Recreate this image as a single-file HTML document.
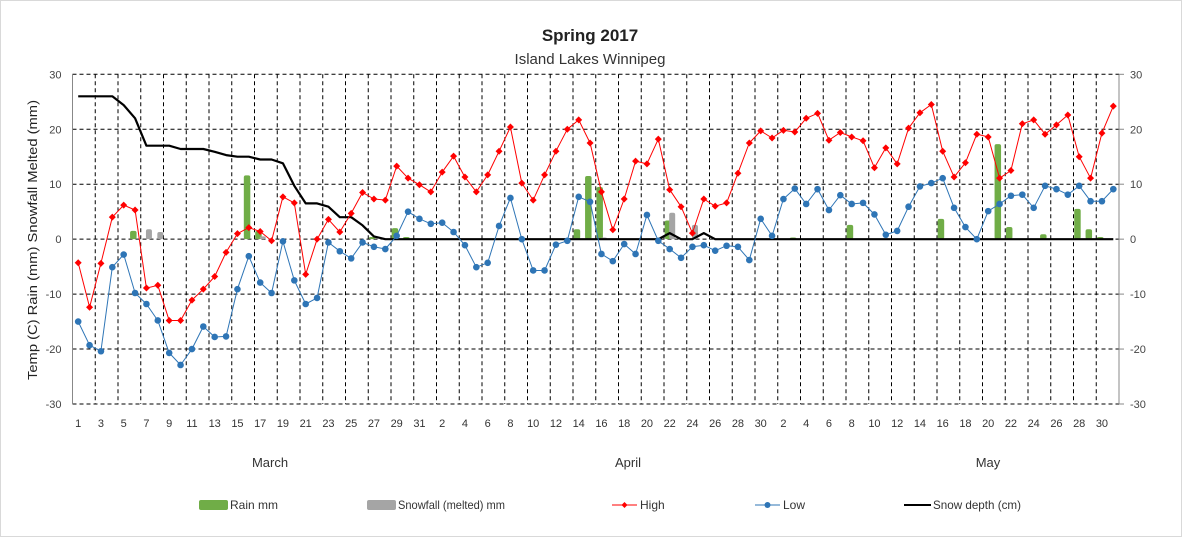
<!DOCTYPE html>
<html><head><meta charset="utf-8"><style>
html,body{margin:0;padding:0;background:#fff}
svg{display:block;font-family:"Liberation Sans",sans-serif}
</style></head><body>
<svg id="c" width="1182" height="537" xmlns="http://www.w3.org/2000/svg"></svg>
<script>
const high=[-4.3,-12.4,-4.4,4,6.2,5.3,-8.9,-8.4,-14.8,-14.8,-11.1,-9.1,-6.8,-2.4,1,2.1,1.4,-0.3,7.7,6.6,-6.4,0,3.6,1.3,4.7,8.5,7.3,7.1,13.3,11.1,9.9,
8.6,12.2,15.1,11.3,8.6,11.7,16,20.4,10.2,7.1,11.7,16,20,21.7,17.5,8.6,1.7,7.3,14.2,13.7,18.2,9,5.9,1.1,7.3,6,6.6,12,17.5,19.7,
18.4,19.8,19.5,22,22.9,18,19.4,18.6,17.9,13,16.6,13.7,20.2,23,24.5,16,11.3,13.9,19.1,18.6,11.1,12.5,21,21.7,19.1,20.8,22.6,15,11.1,19.3,24.2];
const low=[-15,-19.3,-20.4,-5.1,-2.8,-9.8,-11.8,-14.8,-20.7,-22.9,-20,-15.9,-17.8,-17.7,-9.1,-3.1,-7.9,-9.8,-0.4,-7.5,-11.8,-10.7,-0.6,-2.2,-3.5,-0.6,-1.4,-1.8,0.6,5,3.7,
2.8,3,1.3,-1.1,-5.1,-4.3,2.4,7.5,0,-5.7,-5.7,-1,-0.3,7.7,6.8,-2.7,-4,-0.9,-2.7,4.4,-0.3,-1.8,-3.4,-1.4,-1.1,-2.1,-1.2,-1.4,-3.8,3.7,
0.6,7.3,9.2,6.4,9.1,5.3,8,6.4,6.6,4.5,0.8,1.5,5.9,9.6,10.2,11.1,5.7,2.2,0,5.1,6.4,7.9,8.1,5.7,9.7,9.1,8.1,9.7,6.9,6.9,9.1];
const snow=[26,26,26,26,24.4,22,17,17,17,16.4,16.4,16.4,15.9,15.3,15,15,14.5,14.5,13.8,9.7,6.5,6.5,5.9,4,4,2.5,0.5,0];
while(snow.length<92)snow.push(0);
snow[52]=1.1;snow[55]=1.1;
const rain={5:1.5,15:11.6,16:1.5,26:0.4,28:2,29:0.4,44:1.8,45:11.5,46:9.5,52:3.4,63:0.3,68:2.6,76:3.7,81:17.3,82:2.2,85:0.9,88:5.5,89:1.8,90:0.4};
const sf={6:1.8,7:1.3,16:0.5,46:0.3,52:4.8,54:2.6};
const L=72.5,R=1119,T=74.3,B=404,W=(R-L)/92;
const X=i=>L+W*(i+0.5), Y=v=>239.15-v*(B-T)/60;
let s='';
s+='<rect x="0.5" y="0.5" width="1181" height="536" fill="#fff" stroke="#d9d9d9"/>';
s+='<text x="590" y="41" text-anchor="middle" font-size="17" font-weight="bold" fill="#222">Spring 2017</text>';
s+='<text x="590" y="64" text-anchor="middle" font-size="15" fill="#333">Island Lakes Winnipeg</text>';
for(let v=-30;v<=30;v+=10){const y=Y(v);
 s+=`<line x1="${L}" x2="${R}" y1="${y}" y2="${y}" stroke="#000" stroke-width="1" stroke-dasharray="4,3"/>`;
 s+=`<text x="${L-11}" y="${y+4}" text-anchor="end" font-size="11" fill="#444">${v}</text>`;
 s+=`<line x1="${R}" x2="${R+5}" y1="${y}" y2="${y}" stroke="#888"/>`;
 s+=`<text x="${R+11}" y="${y+4}" font-size="11" fill="#444">${v}</text>`;}
for(let k=1;k<46;k++){const x=L+2*W*k;
 s+=`<line x1="${x}" x2="${x}" y1="${T}" y2="${B}" stroke="#000" stroke-dasharray="4,3"/>`;}
s+=`<line x1="${L}" x2="${L}" y1="${T}" y2="${B}" stroke="#888"/>`;
s+=`<line x1="${R}" x2="${R}" y1="${T}" y2="${B}" stroke="#888"/>`;
for(let i=0;i<92;i+=2){let d=i<31?i+1:(i<61?i-30:i-60);
 s+=`<text x="${X(i)}" y="427" text-anchor="middle" font-size="11" fill="#333">${d}</text>`;}
s+=`<text x="270" y="467" text-anchor="middle" font-size="13" fill="#333">March</text>`;
s+=`<text x="628" y="467" text-anchor="middle" font-size="13" fill="#333">April</text>`;
s+=`<text x="988" y="467" text-anchor="middle" font-size="13" fill="#333">May</text>`;
s+=`<text transform="translate(37,240) rotate(-90)" text-anchor="middle" font-size="13" textLength="280" lengthAdjust="spacingAndGlyphs" fill="#222">Temp (C) Rain (mm) Snowfall Melted (mm)</text>`;
const bar=(x,w,v,c)=>{const y=Y(v),h=Y(0)-y;return `<rect x="${x}" y="${y}" width="${w}" height="${h}" rx="2" fill="${c}"/>`;};
for(const k in rain)s+=bar(X(+k)-5,6.5,rain[k],'#70ad47');
for(const k in sf)s+=bar(X(+k)-0.5,6,sf[k],'#a5a5a5');
const pl=(a,c,w)=>`<polyline fill="none" stroke="${c}" stroke-width="${w}" stroke-linejoin="round" points="${a.map((v,i)=>X(i).toFixed(1)+','+Y(v).toFixed(1)).join(' ')}"/>`;
s+=pl(snow,'#000',2.2);
s+=pl(low,'#2e75b6',1);
low.forEach((v,i)=>s+=`<circle cx="${X(i)}" cy="${Y(v)}" r="3.3" fill="#2e75b6"/>`);
s+=pl(high,'#ff0000',1);
high.forEach((v,i)=>{const x=X(i),y=Y(v);s+=`<polygon points="${x},${y-3.5} ${x+3.5},${y} ${x},${y+3.5} ${x-3.5},${y}" fill="#ff0000"/>`;});
const ly=505;
s+=`<rect x="199" y="${ly-5}" width="29" height="10" rx="2" fill="#70ad47"/><text x="230" y="${ly+4}" font-size="12" fill="#333">Rain mm</text>`;
s+=`<rect x="367" y="${ly-5}" width="29" height="10" rx="2" fill="#a5a5a5"/><text x="398" y="${ly+4}" font-size="12" textLength="107" lengthAdjust="spacingAndGlyphs" fill="#333">Snowfall (melted) mm</text>`;
s+=`<line x1="612" x2="637" y1="${ly}" y2="${ly}" stroke="#f00"/><polygon points="624.5,${ly-3} 627.5,${ly} 624.5,${ly+3} 621.5,${ly}" fill="#f00"/><text x="640" y="${ly+4}" font-size="12" fill="#333">High</text>`;
s+=`<line x1="755" x2="780" y1="${ly}" y2="${ly}" stroke="#2e75b6"/><circle cx="767.5" cy="${ly}" r="3" fill="#2e75b6"/><text x="783" y="${ly+4}" font-size="12" fill="#333">Low</text>`;
s+=`<line x1="904" x2="931" y1="${ly}" y2="${ly}" stroke="#000" stroke-width="2"/><text x="933" y="${ly+4}" font-size="12" textLength="88" lengthAdjust="spacingAndGlyphs" fill="#333">Snow depth (cm)</text>`;
document.getElementById('c').innerHTML=s;
</script>
</body></html>
